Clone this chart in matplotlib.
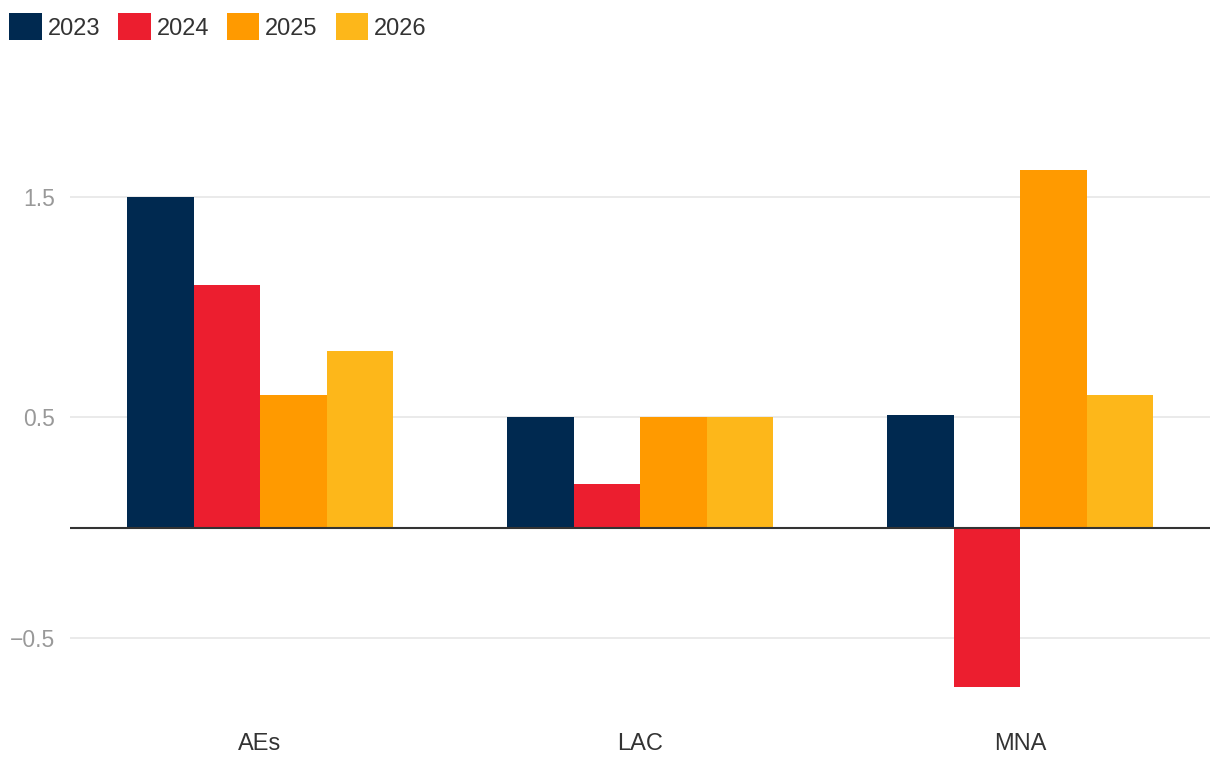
from matplotlib import pyplot as plt
import numpy as np

plt.rcParams['font.family'] = ['Liberation Sans', 'DejaVu Sans']

regions = ["AEs", "LAC", "MNA"]
years = ["2023", "2024", "2025", "2026"]
v2023 = [1.5, 0.5, 0.51]
v2024 = [1.1, 0.2, -0.72]
v2025 = [0.6, 0.5, 1.62]
v2026 = [0.8, 0.5, 0.6]
colors = ["#002950", "#ec1e2f", "#ff9a00", "#fdb71a"]

series = [v2023, v2024, v2025, v2026]

fig = plt.figure(figsize=(12.2, 7.7), dpi=100)
ax = fig.add_axes([70 / 1220, 0.0847, 1140 / 1220, 0.8036])

x = np.arange(len(regions))
width = 0.175
for i, vals in enumerate(series):
    ax.bar(x + (i - 1.5) * width, vals, width=width, color=colors[i],
           label=years[i], zorder=3, linewidth=0)

ax.set_xlim(-0.5, 2.5)
ax.set_ylim(-0.8, 2.0)
ax.set_yticks([-0.5, 0.5, 1.5])
ax.set_yticklabels(["\u22120.5", "0.5", "1.5"])
ax.yaxis.grid(True, color="#e6e6e6", linewidth=1.2, zorder=0)
ax.axhline(0, color="#333333", linewidth=1.5, zorder=4)

ax.set_xticks(x)
ax.set_xticklabels(regions)
ax.tick_params(axis="x", length=0, pad=20, labelsize=17, labelcolor="#333333")
ax.tick_params(axis="y", length=0, pad=11, labelsize=16.5, labelcolor="#999999")
for s in ax.spines.values():
    s.set_visible(False)

fig.legend(loc="upper left", bbox_to_anchor=(0.0, 0.995), ncol=4, frameon=False,
           fontsize=17, handlelength=1.38, handleheight=1.38, handletextpad=0.25,
           columnspacing=0.75, borderaxespad=0, labelcolor="#333333")

plt.savefig("out.png")
